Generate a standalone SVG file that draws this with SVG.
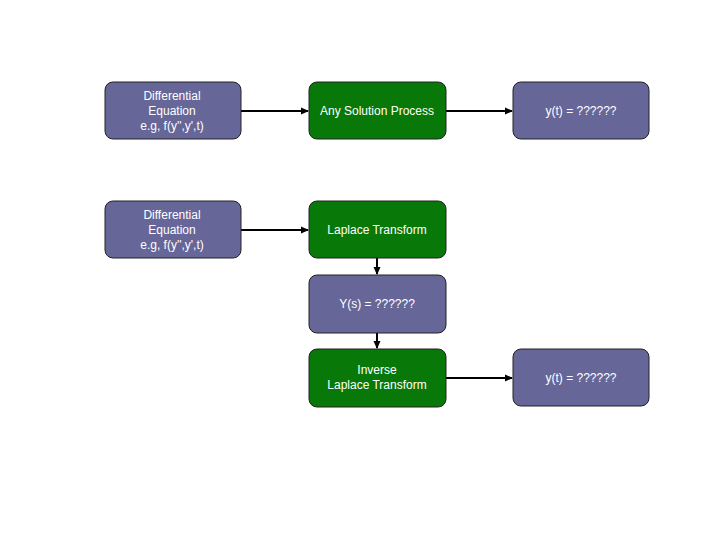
<svg xmlns="http://www.w3.org/2000/svg" width="720" height="540" viewBox="0 0 720 540">
<defs>
<style>
.p{fill:#666699;stroke:#222;stroke-width:1}
.g{fill:#087808;stroke:#222;stroke-width:1}
text{font-family:"Liberation Sans",Arial,sans-serif;font-size:12px;fill:#fff;text-anchor:middle}
.c{stroke:#000;stroke-width:2;fill:none;marker-end:url(#a)}
</style>
<marker id="a" markerWidth="8" markerHeight="8" refX="7" refY="4" orient="auto" markerUnits="userSpaceOnUse">
<path d="M0,0.5 L8,4 L0,7.5 Z" fill="#000"/>
</marker>
</defs>
<rect width="720" height="540" fill="#fff"/>
<g id="connectors">
<line class="c" x1="241" y1="111" x2="308" y2="111"/>
<line class="c" x1="446" y1="111" x2="512" y2="111"/>
<line class="c" x1="241" y1="230" x2="308" y2="230"/>
<line class="c" x1="377" y1="258" x2="377" y2="274"/>
<line class="c" x1="377" y1="333" x2="377" y2="348"/>
<line class="c" x1="446" y1="378" x2="512" y2="378"/>
</g>
<g id="de1"><rect class="p" x="105" y="82" width="136" height="57" rx="8"/>
<text x="172" y="100">Differential</text><text x="172" y="115">Equation</text><text x="172" y="130">e.g, f(y'',y',t)</text></g>
<g id="any"><rect class="g" x="309" y="82" width="137" height="57" rx="8"/>
<text x="377" y="115">Any Solution Process</text></g>
<g id="yt1"><rect class="p" x="513" y="82" width="136" height="57" rx="8"/>
<text x="581" y="115">y(t) = ??????</text></g>
<g id="de2"><rect class="p" x="105" y="201" width="136" height="57" rx="8"/>
<text x="172" y="219">Differential</text><text x="172" y="234">Equation</text><text x="172" y="249">e.g, f(y'',y',t)</text></g>
<g id="lt"><rect class="g" x="309" y="201" width="137" height="57" rx="8"/>
<text x="377" y="234">Laplace Transform</text></g>
<g id="ys"><rect class="p" x="309" y="275" width="137" height="58" rx="8"/>
<text x="377" y="308">Y(s) = ??????</text></g>
<g id="ilt"><rect class="g" x="309" y="349" width="137" height="58" rx="8"/>
<text x="377" y="374">Inverse</text><text x="377" y="389">Laplace Transform</text></g>
<g id="yt2"><rect class="p" x="513" y="349" width="136" height="57" rx="8"/>
<text x="581" y="382">y(t) = ??????</text></g>
</svg>
